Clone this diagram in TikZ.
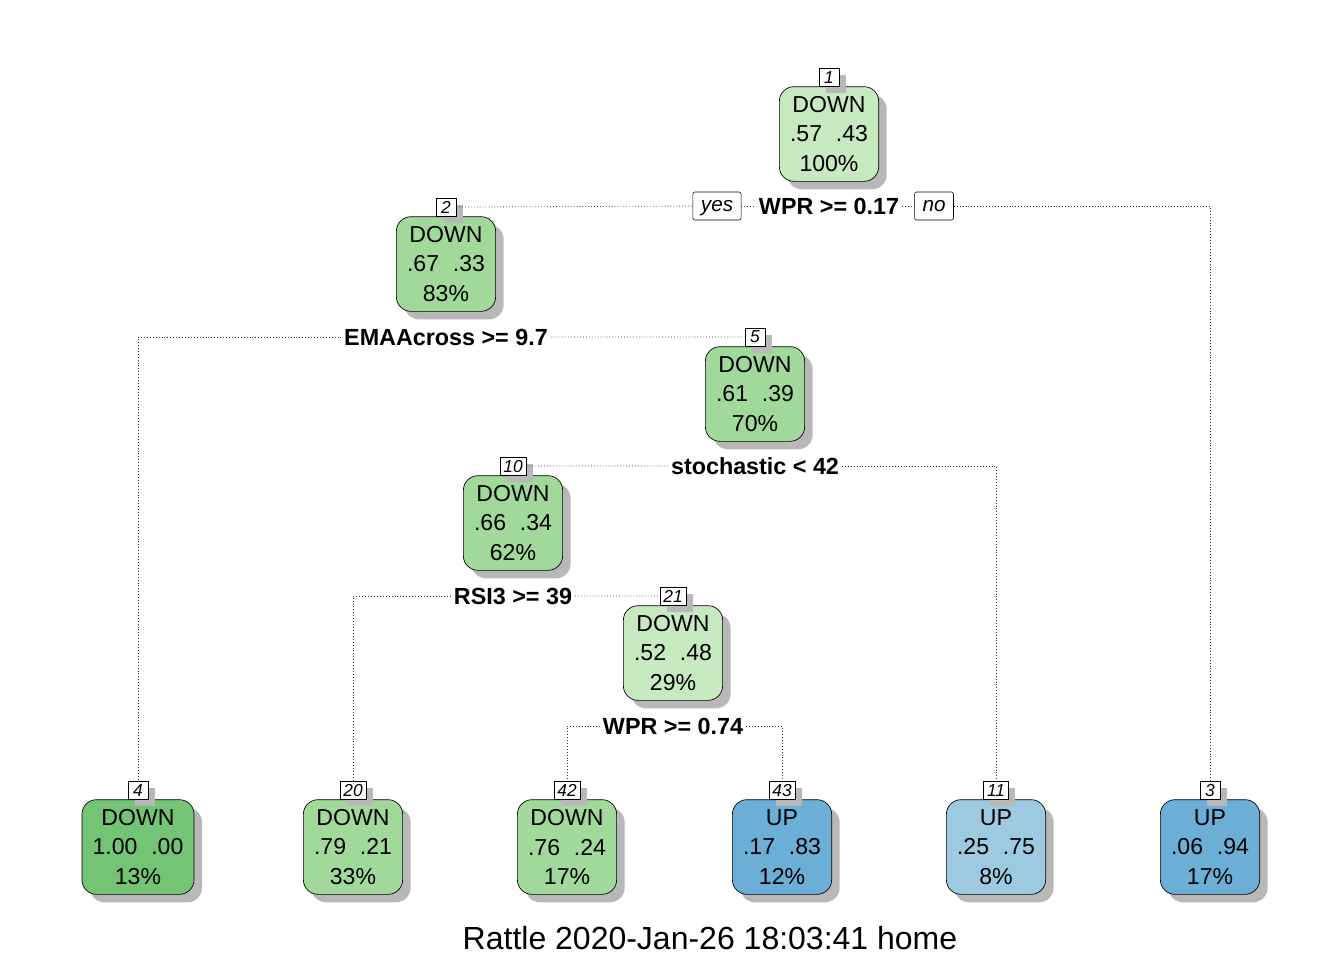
\documentclass[tikz,border=0pt]{standalone}
\usepackage{fontspec}
\setmainfont{Liberation Sans}
\usetikzlibrary{positioning,shadows}
\definecolor{greenpale}{HTML}{C7E9C0}
\definecolor{greenmid}{HTML}{A1D99B}
\definecolor{greendeep}{HTML}{74C476}
\definecolor{bluedeep}{HTML}{6BAED6}
\definecolor{bluepale}{HTML}{9ECAE1}
\newcommand{\probs}[2]{#1\hspace{0.6em}#2}
\begin{document}
\begin{tikzpicture}[x=0.75pt, y=-0.75pt,
  treenode/.style={draw=black, line width=0.5pt, rounded corners=11pt, minimum width=74pt, minimum height=71pt, inner xsep=8pt, align=center, font=\fontsize{17.3}{22}\selectfont, drop shadow={shadow xshift=6pt, shadow yshift=-6pt, fill=black!28, opacity=1}},
  numtag/.style={draw=black, fill=white, line width=0.4pt, inner xsep=2.5pt, inner ysep=1pt, minimum width=15pt, minimum height=13.5pt, anchor=south, font=\fontsize{13}{13}\selectfont\itshape, drop shadow={shadow xshift=5pt, shadow yshift=-5pt, fill=black!28, opacity=1}},
  splitlab/.style={font=\fontsize{17.5}{20}\selectfont\bfseries, inner sep=2pt},
  yesno/.style={draw=black, fill=white, line width=0.4pt, rounded corners=1.5pt, minimum height=21pt, inner xsep=6pt, text height=0.92em, text depth=0.08em, font=\fontsize{15.5}{16}\selectfont\itshape},
  branch/.style={line width=0.6pt, black!80, dash pattern=on 0.6pt off 1.6pt}
]
\useasboundingbox (0,0) rectangle (1344,960);

% Inner nodes
\node[treenode, fill=greenpale] (n1) at (829, 134) {DOWN\\\probs{.57}{.43}\\100\%};
\node[treenode, fill=greenmid] (n2) at (446, 264) {DOWN\\\probs{.67}{.33}\\83\%};
\node[treenode, fill=greenmid] (n5) at (755, 394) {DOWN\\\probs{.61}{.39}\\70\%};
\node[treenode, fill=greenmid] (n10) at (513, 523) {DOWN\\\probs{.66}{.34}\\62\%};
\node[treenode, fill=greenpale] (n21) at (673, 653) {DOWN\\\probs{.52}{.48}\\29\%};

% Leaves
\node[treenode, fill=greendeep] (n4) at (138, 847) {DOWN\\\probs{1.00}{.00}\\13\%};
\node[treenode, fill=greenmid] (n20) at (353, 847) {DOWN\\\probs{.79}{.21}\\33\%};
\node[treenode, fill=greenmid] (n42) at (567, 847) {DOWN\\\probs{.76}{.24}\\17\%};
\node[treenode, fill=bluedeep] (n43) at (782, 847) {UP\\\probs{.17}{.83}\\12\%};
\node[treenode, fill=bluepale] (n11) at (996, 847) {UP\\\probs{.25}{.75}\\8\%};
\node[treenode, fill=bluedeep] (n3) at (1210, 847) {UP\\\probs{.06}{.94}\\17\%};

% Node numbers
\foreach \n in {1,2,5,10,21,4,20,42,43,11,3}
  \node[numtag] (t\n) at (n\n.north) {\n};

% Split labels
\node[splitlab] (s1) at (829, 206) {WPR >= 0.17};
\node[yesno] (yes) at (717, 206) {yes};
\node[yesno] (no) at (934, 206) {no};
\node[splitlab] (s2) at (446, 337) {EMAAcross >= 9.7};
\node[splitlab] (s5) at (755, 466) {stochastic < 42};
\node[splitlab] (s10) at (513, 596) {RSI3 >= 39};
\node[splitlab] (s21) at (673, 726) {WPR >= 0.74};

% Branches
\draw[branch] (t2.east) -- (yes.west);
\draw[branch] (yes.east) -- (s1.west);
\draw[branch] (s1.east) -- (no.west);
\draw[branch] (no.east) -| (t3.north);
\draw[branch] (s2.west) -| (t4.north);
\draw[branch] (s2.east) -- (t5.west);
\draw[branch] (s5.west) -- (t10.east);
\draw[branch] (s5.east) -| (t11.north);
\draw[branch] (s10.west) -| (t20.north);
\draw[branch] (s10.east) -- (t21.west);
\draw[branch] (s21.west) -| (t42.north);
\draw[branch] (s21.east) -| (t43.north);

% Caption
\node[font=\fontsize{24}{28}\selectfont] (caption) at (710, 938) {Rattle 2020-Jan-26 18:03:41 home};
\end{tikzpicture}
\end{document}
